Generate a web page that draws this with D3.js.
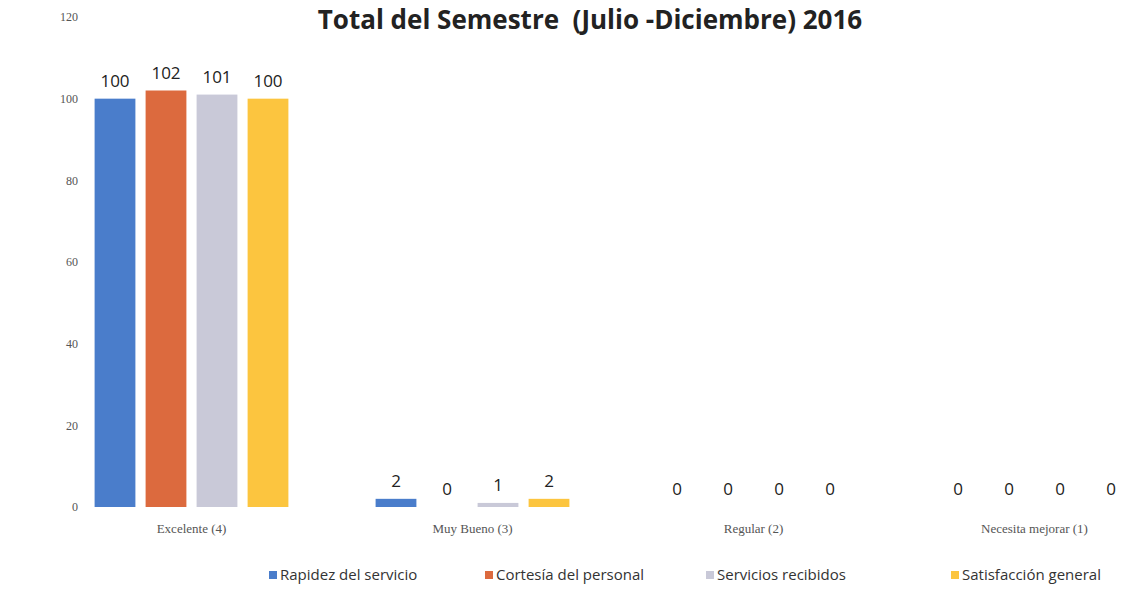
<!DOCTYPE html>
<html>
<head>
<meta charset="utf-8">
<script src="https://cdn.jsdelivr.net/npm/d3@7"></script>
<style>
  body { margin: 0; background: #fff; }
  #bar { width: 1122px; height: 609px; }
</style>
</head>
<body>
<div id="bar"></div>
<script>
// chart data
var categories = ["Excelente (4)", "Muy Bueno (3)", "Regular (2)", "Necesita mejorar (1)"];
var seriesNames = ["Rapidez del servicio", "Cortesía del personal", "Servicios recibidos", "Satisfacción general"];
var rapidez = [100, 2, 0, 0];
var cortesia = [102, 0, 0, 0];
var servicios = [101, 1, 0, 0];
var satisfaccion = [100, 2, 0, 0];
var yTicks = [0, 20, 40, 60, 80, 100, 120];
var colors = ["#4a7dcb", "#dc6a3e", "#c9c9d8", "#fcc53f"];

var seriesValues = [rapidez, cortesia, servicios, satisfaccion];

var width = 1122;
var height = 609;

var svg = d3.select("#bar")
  .append("svg")
  .attr("width", width)
  .attr("height", height)
  .style("font-family", "'Open Sans', sans-serif");

// scales
var xScale = d3.scaleBand()
  .domain(categories)
  .range([51, 1175])
  .paddingInner(0)
  .paddingOuter(0);

var xInner = d3.scaleBand()
  .domain(seriesNames)
  .range([-102, 102])
  .paddingInner(0.2)
  .paddingOuter(0.1);

var yScale = d3.scaleLinear()
  .domain([0, 120])
  .range([507, 17]);

// title
svg.append("text")
  .attr("x", 590)
  .attr("y", 29)
  .attr("text-anchor", "middle")
  .attr("font-size", 26)
  .attr("font-weight", "bold")
  .attr("fill", "#222")
  .style("white-space", "pre")
  .text("Total del Semestre  (Julio -Diciembre) 2016");

// y axis
var yAxis = svg.append("g")
  .attr("transform", "translate(78,0)")
  .call(d3.axisLeft(yScale).tickValues(yTicks).tickSize(0).tickPadding(0));
yAxis.select(".domain").remove();
yAxis.selectAll("text")
  .attr("font-family", "'Liberation Serif', serif")
  .attr("font-size", 12)
  .attr("fill", "#555");

// x axis labels
var xAxis = svg.append("g")
  .attr("transform", "translate(0,524)")
  .call(d3.axisBottom(xScale).tickSize(0).tickPadding(0));
xAxis.select(".domain").remove();
xAxis.selectAll("text")
  .attr("font-family", "'Liberation Serif', serif")
  .attr("font-size", 13)
  .attr("fill", "#555");

// bars
var groups = svg.append("g")
  .selectAll("g")
  .data(categories)
  .enter()
  .append("g")
  .attr("transform", function (d) { return "translate(" + (xScale(d) + xScale.bandwidth() / 2) + ",0)"; });

groups.selectAll("rect")
  .data(function (d, i) { return seriesNames.map(function (s, j) { return { s: s, j: j, v: seriesValues[j][i] }; }); })
  .enter()
  .append("rect")
  .attr("x", function (d) { return xInner(d.s); })
  .attr("y", function (d) { return yScale(d.v); })
  .attr("width", xInner.bandwidth())
  .attr("height", function (d) { return yScale(0) - yScale(d.v); })
  .attr("fill", function (d) { return colors[d.j]; });

groups.selectAll("text")
  .data(function (d, i) { return seriesNames.map(function (s, j) { return { s: s, j: j, v: seriesValues[j][i] }; }); })
  .enter()
  .append("text")
  .attr("x", function (d) { return xInner(d.s) + xInner.bandwidth() / 2; })
  .attr("y", function (d) { return yScale(d.v) - 12; })
  .attr("text-anchor", "middle")
  .attr("font-size", 17)
  .attr("fill", "#222")
  .text(function (d) { return d.v; });

// legend
var legendX = [269, 485, 706, 951];
var legend = svg.append("g")
  .selectAll("g")
  .data(seriesNames)
  .enter()
  .append("g")
  .attr("transform", function (d, i) { return "translate(" + legendX[i] + ",571)"; });

legend.append("rect")
  .attr("width", 8)
  .attr("height", 8)
  .attr("fill", function (d, i) { return colors[i]; });

legend.append("text")
  .attr("x", 11)
  .attr("y", 9)
  .attr("font-size", 15)
  .attr("fill", "#333")
  .text(function (d) { return d; });
</script>
</body>
</html>
